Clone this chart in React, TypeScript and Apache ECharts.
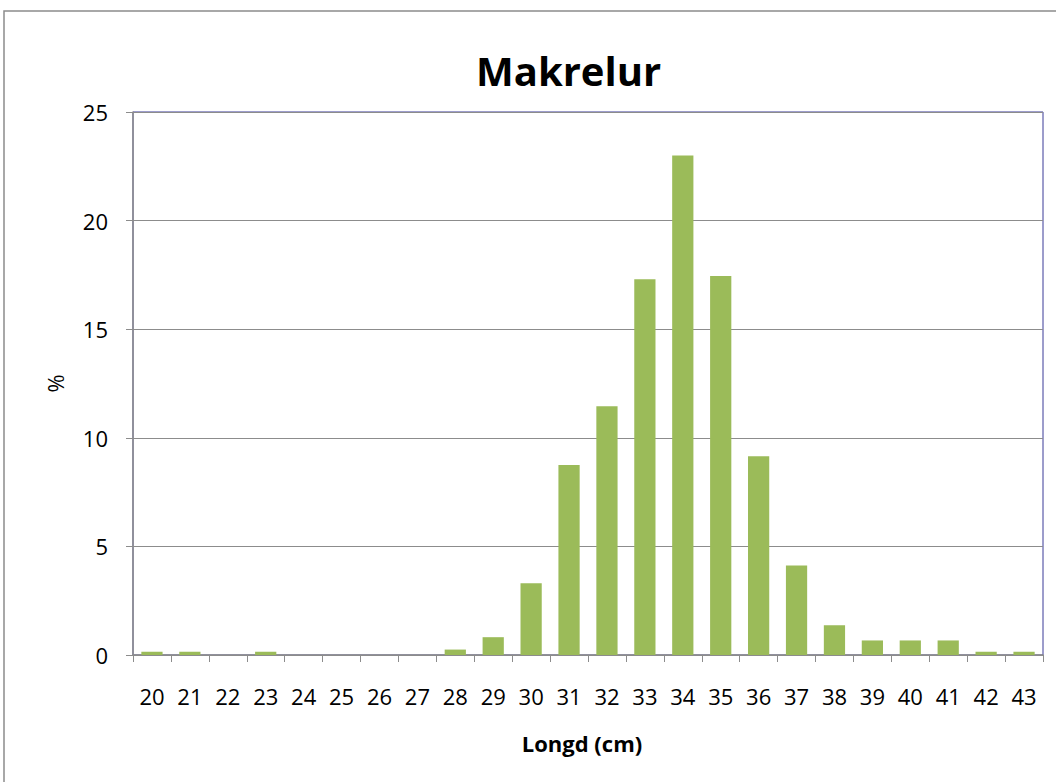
import React, { useEffect, useRef } from "react";
import * as echarts from "echarts";

const categories = ["20","21","22","23","24","25","26","27","28","29","30","31","32","33","34","35","36","37","38","39","40","41","42","43"];
const values = [0.15,0.15,0,0.15,0,0,0,0,0.25,0.82,3.3,8.75,11.45,17.3,23.0,17.45,9.15,4.12,1.37,0.67,0.67,0.67,0.15,0.15];
const yTicks = { min: 0, max: 25, interval: 5 };
const title = "Makrelur";
const xName = "Longd (cm)";
const yName = "%";

export default function App() {
  const ref = useRef<HTMLDivElement>(null);
  useEffect(() => {
    document.body.style.margin = "0";
    const chart = echarts.init(ref.current!, null, { renderer: "svg" });
    const font = "'Open Sans', 'Liberation Sans', sans-serif";
    chart.setOption({
      animation: false,
      backgroundColor: "#ffffff",
      title: {
        text: title,
        left: 471,
        top: 45,
        textStyle: { fontFamily: font, fontSize: 40, fontWeight: "bold", color: "#000" },
      },
      grid: {
        left: 133, right: 13, top: 112, bottom: 127,
        show: true, borderColor: "#3b3b98", borderWidth: 1, backgroundColor: "transparent",
      },
      graphic: [
        { type: "rect", shape: { x: 4, y: 11, width: 1200, height: 900 }, style: { fill: "none", stroke: "#8c8c8c", lineWidth: 1.5 }, silent: true, z: -1 },
      ],
      xAxis: {
        type: "category",
        data: categories,
        name: xName,
        nameLocation: "middle",
        nameGap: 77,
        nameTextStyle: { fontFamily: font, fontSize: 22, fontWeight: "bold", color: "#000", padding: [0, 12, 0, 0] },
        axisLine: { lineStyle: { color: "#8c8c8c", width: 1.5 } },
        axisTick: { show: true, length: 7, lineStyle: { color: "#8c8c8c" }, alignWithLabel: false },
        axisLabel: { fontFamily: font, fontSize: 22, color: "#000", margin: 30, interval: 0 },
        splitLine: { show: false },
      },
      yAxis: {
        type: "value",
        min: yTicks.min, max: yTicks.max, interval: yTicks.interval,
        name: yName,
        nameLocation: "middle",
        nameGap: 67,
        nameRotate: 90,
        nameTextStyle: { fontFamily: font, fontSize: 22, color: "#000" },
        axisLine: { show: true, lineStyle: { color: "#8c8c8c", width: 1.5 } },
        axisTick: { show: true, length: 7, lineStyle: { color: "#8c8c8c" } },
        axisLabel: { fontFamily: font, fontSize: 22, color: "#000", margin: 25 },
        splitLine: { show: true, lineStyle: { color: "#8c8c8c", width: 1 } },
      },
      series: [
        {
          type: "bar",
          data: values,
          barCategoryGap: "44%",
          itemStyle: { color: "#9bbb59" },
        },
      ],
    });
    return () => chart.dispose();
  }, []);
  return <div ref={ref} style={{ width: 1056, height: 782 }} />;
}
